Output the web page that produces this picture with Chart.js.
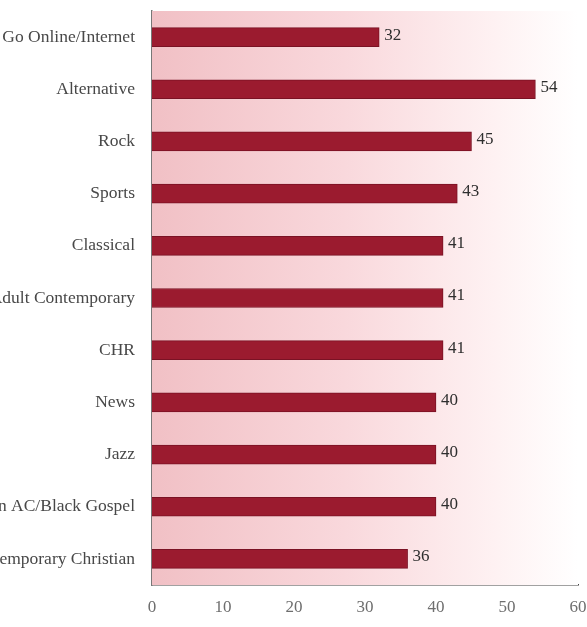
<!DOCTYPE html>
<html>
<head>
<meta charset="utf-8">
<script src="https://cdn.jsdelivr.net/npm/chart.js@4"></script>
<style>
  html, body { margin: 0; padding: 0; background: #fff; }
  #wrap { width: 587px; height: 627px; }
</style>
</head>
<body>
<div id="wrap"><canvas id="grafico" width="587" height="627"></canvas></div>
<script>
const categorias = [
  'Go Online/Internet',
  'Alternative',
  'Rock',
  'Sports',
  'Classical',
  'Adult Contemporary',
  'CHR',
  'News',
  'Jazz',
  'Urban AC/Black Gospel',
  'Contemporary Christian'
];
const valores = [32, 54, 45, 43, 41, 41, 41, 40, 40, 40, 36];
const ticksX = [0, 10, 20, 30, 40, 50, 60];

const serif = "'Liberation Serif', 'DejaVu Serif', serif";

// fondo rosado degradado dentro del area del grafico
const fondoPlugin = {
  id: 'fondo',
  beforeDatasetsDraw(chart) {
    const { ctx, chartArea: a } = chart;
    const g = ctx.createLinearGradient(a.left, 0, a.right, 0);
    g.addColorStop(0, 'rgb(241,192,197)');
    g.addColorStop(0.45, 'rgb(249,216,220)');
    g.addColorStop(0.8, 'rgb(254,241,242)');
    g.addColorStop(1, 'rgb(255,255,255)');
    ctx.save();
    ctx.fillStyle = g;
    ctx.fillRect(a.left, a.top, a.right - a.left, a.bottom - a.top);
    ctx.restore();
  }
};

// etiquetas de valor al final de cada barra
const etiquetasPlugin = {
  id: 'etiquetas',
  afterDatasetsDraw(chart) {
    const { ctx } = chart;
    const meta = chart.getDatasetMeta(0);
    ctx.save();
    ctx.font = '17px ' + serif;
    ctx.fillStyle = '#2e2e2e';
    ctx.textAlign = 'left';
    ctx.textBaseline = 'middle';
    meta.data.forEach((bar, i) => {
      ctx.fillText(String(valores[i]), bar.x + 5, bar.y - 2);
    });
    ctx.restore();
  }
};

new Chart(document.getElementById('grafico').getContext('2d'), {
  type: 'bar',
  data: {
    labels: categorias,
    datasets: [{
      data: valores,
      backgroundColor: '#9b1b2f',
      borderColor: '#7a1224',
      borderWidth: 1,
      barThickness: 19
    }]
  },
  options: {
    indexAxis: 'y',
    responsive: false,
    animation: false,
    layout: { padding: { top: 11, right: 0, left: 0, bottom: 0 } },
    plugins: {
      legend: { display: false },
      tooltip: { enabled: false }
    },
    scales: {
      x: {
        min: 0,
        max: 60,
        afterBuildTicks: scale => { scale.ticks = ticksX.map(v => ({ value: v })); },
        afterFit: scale => {
          scale.height = 42;
          scale.paddingLeft = 0;
          scale.paddingRight = 9;
        },
        grid: { display: false },
        border: { display: true, color: '#444', width: 1.5 },
        ticks: {
          padding: 4,
          color: '#6e6e6e',
          font: { family: serif, size: 17 }
        }
      },
      y: {
        afterFit: scale => {
          scale.width = 152;
          scale.paddingTop = 0;
          scale.paddingBottom = 0;
        },
        grid: { display: false },
        border: { display: true, color: '#777', width: 1.5 },
        ticks: {
          padding: 9,
          color: '#484848',
          font: { family: serif, size: 17.5 }
        }
      }
    }
  },
  plugins: [fondoPlugin, etiquetasPlugin]
});
</script>
</body>
</html>
